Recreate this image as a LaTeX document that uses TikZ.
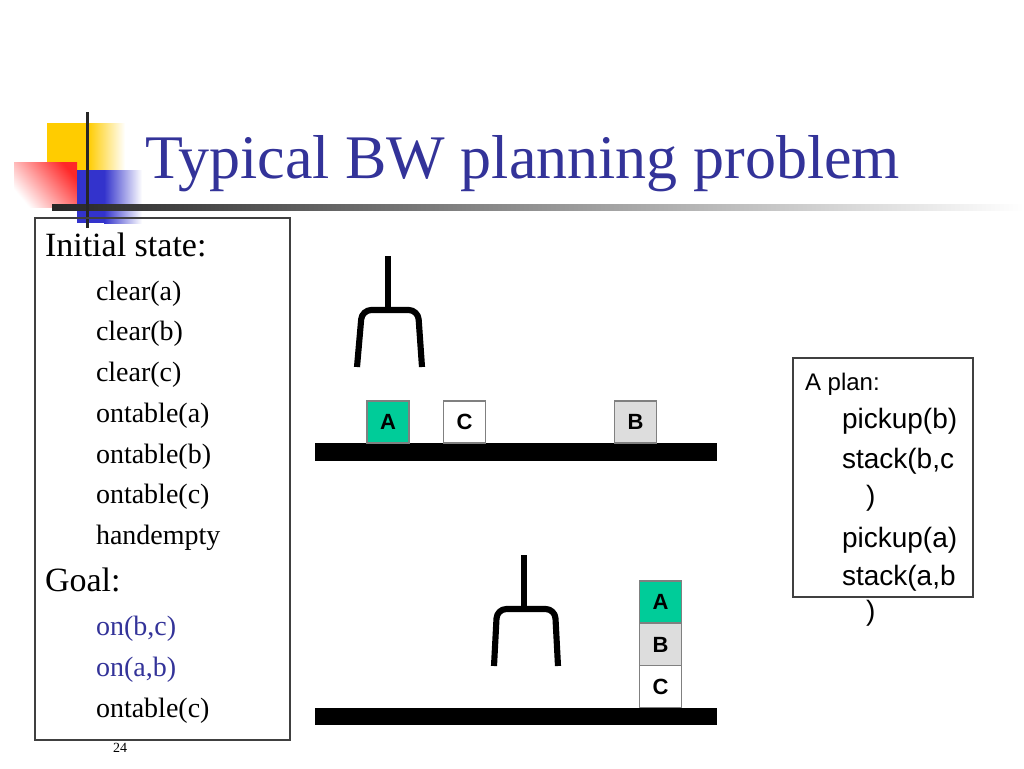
\documentclass[tikz,border=0pt]{standalone}
\usepackage{fontspec}
\setmainfont{Liberation Serif}
\newfontfamily\arialf{Liberation Sans}
\definecolor{titleblue}{RGB}{51,51,153}
\definecolor{blkgreen}{RGB}{0,204,153}
\definecolor{blkgray}{RGB}{221,221,221}
\definecolor{blkedge}{RGB}{128,128,128}
\definecolor{decoyellow}{RGB}{255,204,0}
\definecolor{decored}{RGB}{255,40,40}
\definecolor{decoblue}{RGB}{51,51,204}
\begin{document}
\begin{tikzpicture}[x=0.75pt,y=-0.75pt,
  txt/.style={anchor=base west,inner sep=0pt,outer sep=0pt},
  big/.style={txt,font=\fontsize{25.5}{30}\selectfont},
  item/.style={txt,font=\fontsize{21}{25}\selectfont},
  planhead/.style={txt,font=\arialf\fontsize{18}{22}\selectfont},
  planitem/.style={txt,font=\arialf\fontsize{21}{25}\selectfont},
  blk/.style={draw=blkedge,line width=0.9pt,minimum width=31.5pt,minimum height=31.5pt,inner sep=0pt,font=\arialf\bfseries\fontsize{16.5}{18}\selectfont},
  tablebar/.style={fill=black},
  grip/.style={line width=4.6pt,line cap=butt,line join=round},
  frame/.style={draw=black!75,line width=0.8pt}]
\useasboundingbox (0,0) rectangle (1024,768);
\fill[white] (0,0) rectangle (1024,768);
% decoration
\fill[decoyellow] (47,123) rectangle (88,170);
\shade[left color=decoyellow,right color=white] (88,123) rectangle (125,170);
\shade[top color=decored,bottom color=white,shading angle=-50] (14,162) rectangle (77,207);
\fill[decoblue] (77,170) rectangle (104,223);
\shade[left color=decoblue,right color=white] (104,170) rectangle (142,223);
\shade[left color=black!85,right color=white] (52,204) rectangle (1024,210);
\fill[black!85] (86,112) rectangle (89,228);
% title
\node[txt,text=titleblue,font=\fontsize{46.5}{50}\selectfont] (title) at (145,178) {Typical BW planning problem};
% left box
\draw[frame] (35,218) rectangle (290,740);
\node[big] (init) at (45,256) {Initial state:};
\node[item] (i1) at (96,300) {clear(a)};
\node[item] (i2) at (96,340) {clear(b)};
\node[item] (i3) at (96,381) {clear(c)};
\node[item] (i4) at (96,422) {ontable(a)};
\node[item] (i5) at (96,463) {ontable(b)};
\node[item] (i6) at (96,503) {ontable(c)};
\node[item] (i7) at (96,544) {handempty};
\node[big] (goal) at (45,591) {Goal:};
\node[item,text=titleblue] (g1) at (96,635) {on(b,c)};
\node[item,text=titleblue] (g2) at (96,676) {on(a,b)};
\node[item] (g3) at (96,717) {ontable(c)};
\node[txt,font=\fontsize{10.5}{12}\selectfont] (pg) at (113,752) {24};
% top scene
\fill[tablebar] (315,443) rectangle (717,461);
\node[blk,fill=blkgreen] (a1) at (388,422) {A};
\node[blk,fill=white] (c1) at (464.5,422) {C};
\node[blk,fill=blkgray] (b1) at (635.5,422) {B};
\draw[grip] (388,256) -- (388,309);
\draw[grip,rounded corners=7pt] (357,367) -- (362,310) -- (418,310) -- (422,367);
% bottom scene
\fill[tablebar] (315,708) rectangle (717,725);
\node[blk,fill=white] (c2) at (660.5,686.5) {C};
\node[blk,fill=blkgray] (b2) at (660.5,644.5) {B};
\node[blk,fill=blkgreen] (a2) at (660.5,602) {A};
\draw[grip] (524,555) -- (524,607);
\draw[grip,rounded corners=7pt] (494,666) -- (497,609) -- (555,609) -- (558,666);
% plan box
\draw[frame] (793,358) rectangle (973,597);
\node[planhead] (ph) at (805,390) {A plan:};
\node[planitem] (p1) at (842,428) {pickup(b)};
\node[planitem] (p2) at (842,468) {stack(b,c};
\node[planitem] (p2b) at (866,505) {)};
\node[planitem] (p3) at (842,547) {pickup(a)};
\node[planitem] (p4) at (842,585) {stack(a,b};
\node[planitem] (p4b) at (866,620) {)};
\end{tikzpicture}
\end{document}
